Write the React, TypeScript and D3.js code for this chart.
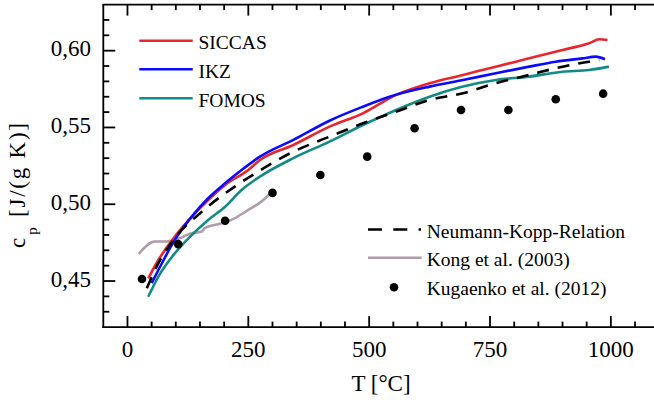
import React from "react";
import * as d3 from "d3";

// Temperatures (°C) and specific heat values (J/(g K))
const siccasT = [43, 64, 98, 133, 167, 202, 250, 274, 343, 418, 487, 556, 625, 694, 762, 831, 900, 955, 976, 993];
const siccasCp = [0.4518, 0.4637, 0.4789, 0.4919, 0.5028, 0.5126, 0.5223, 0.5288, 0.5386, 0.5505, 0.5592, 0.5712, 0.5788, 0.5842, 0.5896, 0.595, 0.6005, 0.6048, 0.6074, 0.607];

const ikzT = [50, 64, 98, 133, 167, 202, 236, 274, 343, 418, 487, 542, 625, 694, 762, 831, 886, 941, 969, 988];
const ikzCp = [0.4486, 0.4572, 0.4768, 0.4919, 0.5039, 0.5137, 0.5223, 0.531, 0.5419, 0.5544, 0.5635, 0.57, 0.5766, 0.5809, 0.5853, 0.5896, 0.5928, 0.595, 0.5961, 0.5944];

const fomosT = [43, 64, 98, 133, 167, 202, 236, 274, 343, 418, 487, 556, 625, 694, 762, 831, 900, 955, 996];
const fomosCp = [0.4398, 0.4529, 0.4681, 0.48, 0.4898, 0.4984, 0.5093, 0.518, 0.53, 0.5408, 0.5516, 0.5614, 0.57, 0.5766, 0.5809, 0.5831, 0.5863, 0.5874, 0.5896];

const nkT = [40, 64, 98, 154, 222, 270, 343, 418, 487, 556, 625, 694, 762, 831, 900, 976];
const nkCp = [0.4453, 0.4616, 0.4779, 0.4952, 0.5115, 0.5212, 0.5342, 0.544, 0.5527, 0.5603, 0.5679, 0.5723, 0.5788, 0.5842, 0.5896, 0.594];

const kongT = [23, 57, 78, 98, 133, 154, 160, 195, 215, 250, 277, 295];
const kongCp = [0.4676, 0.4757, 0.4757, 0.4768, 0.4811, 0.4822, 0.4844, 0.4876, 0.4898, 0.4963, 0.5017, 0.5068];

const kugT = [30, 105, 202, 300, 399, 496, 594, 690, 788, 886, 984];
const kugCp = [0.4513, 0.474, 0.4893, 0.5074, 0.519, 0.531, 0.5495, 0.5614, 0.5614, 0.5684, 0.572];

const xMajor = [0, 250, 500, 750, 1000];
const yMajor = [0.45, 0.5, 0.55, 0.6];

const W = 654;
const H = 400;

const zip = (t: number[], c: number[]) => t.map((v, i) => [v, c[i]] as [number, number]);

export default function App() {
  const x = d3.scaleLinear().domain([-50, 1100]).range([103.3, 659.2]);
  const y = d3.scaleLinear().domain([0.42, 0.63]).range([327.1, 4.6]);
  const left = x(-50);
  const bottom = y(0.42);
  const top = y(0.63);

  const line = d3
    .line<[number, number]>()
    .x((d) => x(d[0]))
    .y((d) => y(d[1]))
    .curve(d3.curveMonotoneX);

  const xMinor = d3.range(-50, 1101, 50).filter((v) => !xMajor.includes(v) && v > -50);
  const yMinorAll = d3.range(43, 63, 1).map((v) => v / 100);
  const yMinor = yMinorAll.filter((v) => !yMajor.some((m) => Math.abs(m - v) < 1e-6));

  const series = [
    { name: "SICCAS", data: zip(siccasT, siccasCp), color: "#e8262e" },
    { name: "IKZ", data: zip(ikzT, ikzCp), color: "#0a0aff" },
    { name: "FOMOS", data: zip(fomosT, fomosCp), color: "#128a85" },
  ];

  const legend1Y = [40.7, 69.3, 98.3];
  const legend2Y = [229.5, 257.8, 287.2];

  return (
    <div style={{ position: "absolute", left: 0, top: 0, width: W, height: H, fontFamily: "Liberation Serif" }}>
      <svg width={W} height={H} style={{ display: "block", fontFamily: "Liberation Serif" }}>
        <defs>
          <clipPath id="plotclip">
            <rect x={left} y={top} width={W - left} height={bottom - top} />
          </clipPath>
        </defs>

        {/* data */}
        <g clipPath="url(#plotclip)">
          <path d={line(zip(kongT, kongCp)) || ""} fill="none" stroke="#b09caa" strokeWidth={2.6} />
          {series.map((s) => (
            <path key={s.name} d={line(s.data) || ""} fill="none" stroke={s.color} strokeWidth={2.6} />
          ))}
          <path
            d={line(zip(nkT, nkCp)) || ""}
            fill="none"
            stroke="#000"
            strokeWidth={2.6}
            strokeDasharray="12,9"
          />
          {zip(kugT, kugCp).map((d, i) => (
            <circle key={i} cx={x(d[0])} cy={y(d[1])} r={4.3} fill="#000" />
          ))}
        </g>

        {/* axes frame */}
        <line x1={left} x2={left} y1={top} y2={bottom + 0.9} stroke="#000" strokeWidth={1.8} />
        <line x1={left - 0.9} x2={W} y1={bottom} y2={bottom} stroke="#000" strokeWidth={1.8} />
        <line x1={left - 0.9} x2={W} y1={top} y2={top} stroke="#000" strokeWidth={1.8} />

        {/* x ticks */}
        {xMajor.map((v) => (
          <g key={"xm" + v}>
            <line x1={x(v)} x2={x(v)} y1={bottom} y2={bottom - 11} stroke="#000" strokeWidth={1.8} />
            <line x1={x(v)} x2={x(v)} y1={top} y2={top + 11} stroke="#000" strokeWidth={1.8} />
            <text x={x(v)} y={357} textAnchor="middle" fontSize={23}>
              {String(v)}
            </text>
          </g>
        ))}
        {xMinor.map((v) => (
          <g key={"xn" + v}>
            <line x1={x(v)} x2={x(v)} y1={bottom} y2={bottom - 5.5} stroke="#000" strokeWidth={1.8} />
            <line x1={x(v)} x2={x(v)} y1={top} y2={top + 5.5} stroke="#000" strokeWidth={1.8} />
          </g>
        ))}

        {/* y ticks */}
        {yMajor.map((v) => (
          <g key={"ym" + v}>
            <line x1={left} x2={left + 12} y1={y(v)} y2={y(v)} stroke="#000" strokeWidth={1.8} />
            <text x={91} y={y(v) + 5.8} textAnchor="end" fontSize={23}>
              {d3.format(".2f")(v).replace(".", ",")}
            </text>
          </g>
        ))}
        {yMinor.map((v) => (
          <line key={"yn" + v} x1={left} x2={left + 6} y1={y(v)} y2={y(v)} stroke="#000" strokeWidth={1.8} />
        ))}

        {/* axis titles */}
        <text x={381} y={391} textAnchor="middle" fontSize={23}>
          T [°C]
        </text>
        <text transform="translate(25,243) rotate(-90)" textAnchor="middle" fontSize={23}>
          c
        </text>
        <text transform="translate(37,231) rotate(-90)" textAnchor="middle" fontSize={15}>
          p
        </text>
        <text
          transform="translate(25,170) rotate(-90)"
          textAnchor="middle"
          fontSize={23}
          textLength={94}
          lengthAdjust="spacing"
        >
          [J/(g K)]
        </text>

        {/* legend 1 */}
        {series.map((s, i) => (
          <g key={"l1" + s.name}>
            <line x1={139.3} x2={192.7} y1={legend1Y[i]} y2={legend1Y[i]} stroke={s.color} strokeWidth={2.6} />
            <text x={198.5} y={legend1Y[i] + 8.5} fontSize={19.5}>
              {s.name}
            </text>
          </g>
        ))}

        {/* legend 2 */}
        <line
          x1={368}
          x2={421}
          y1={legend2Y[0]}
          y2={legend2Y[0]}
          stroke="#000"
          strokeWidth={2.6}
          strokeDasharray="14,11.3"
        />
        <text x={426.7} y={legend2Y[0] + 8} fontSize={19.5}>
          Neumann-Kopp-Relation
        </text>
        <line x1={368} x2={421.7} y1={legend2Y[1]} y2={legend2Y[1]} stroke="#b09caa" strokeWidth={2.6} />
        <text x={426.7} y={legend2Y[1] + 8} fontSize={19.5}>
          Kong et al. (2003)
        </text>
        <circle cx={394} cy={legend2Y[2]} r={4.3} fill="#000" />
        <text x={426.7} y={legend2Y[2] + 8} fontSize={19.5}>
          Kugaenko et al. (2012)
        </text>
      </svg>
    </div>
  );
}
